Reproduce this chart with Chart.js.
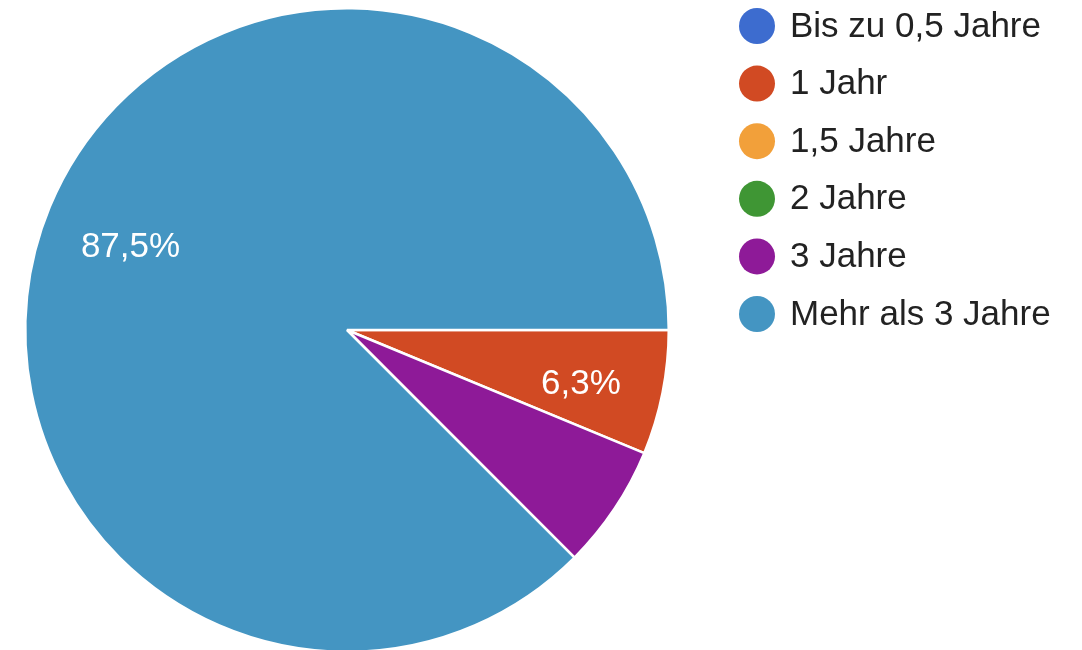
<!DOCTYPE html>
<html>
<head>
<meta charset="utf-8">
<script src="https://cdn.jsdelivr.net/npm/chart.js@4"></script>
<style>
  html, body { margin: 0; padding: 0; background: #fff; overflow: hidden; }
  #wrap { width: 1082px; height: 650px; overflow: hidden; }
</style>
</head>
<body>
<div id="wrap"><canvas id="pie" width="1082" height="660"></canvas></div>
<script>
var categories = ['Bis zu 0,5 Jahre', '1 Jahr', '1,5 Jahre', '2 Jahre', '3 Jahre', 'Mehr als 3 Jahre'];
var shares = [0, 6.25, 0, 0, 6.25, 87.5];
var shareLabels = ['0%', '6,3%', '0%', '0%', '6,3%', '87,5%'];
var sliceColors = ['#3d6ccf', '#d14a23', '#f2a03a', '#3f9634', '#8e1a98', '#4495c2'];
var showPercent = [false, true, false, false, false, true];

var fontFamily = '"Liberation Sans", Arial, Helvetica, sans-serif';

// percent labels inside slices + legend on the right
var pieExtras = {
  id: 'pieExtras',
  afterDraw: function(chart) {
    var ctx = chart.ctx;
    var meta = chart.getDatasetMeta(0);
    ctx.save();
    ctx.font = '35px ' + fontFamily;
    ctx.fillStyle = '#ffffff';
    ctx.textAlign = 'center';
    ctx.textBaseline = 'middle';
    meta.data.forEach(function(arc, i) {
      if (!showPercent[i]) return;
      var mid = (arc.startAngle + arc.endAngle) / 2;
      var r = arc.outerRadius * 0.735;
      ctx.fillText(shareLabels[i], arc.x + Math.cos(mid) * r + 2, arc.y + Math.sin(mid) * r + 8);
    });

    ctx.textAlign = 'left';
    ctx.font = '35px ' + fontFamily;
    for (var i = 0; i < categories.length; i++) {
      var cy = 26 + i * 57.6;
      ctx.beginPath();
      ctx.arc(757, cy, 18, 0, Math.PI * 2);
      ctx.fillStyle = sliceColors[i];
      ctx.fill();
      ctx.fillStyle = '#222222';
      ctx.fillText(categories[i], 790, cy + 1);
    }
    ctx.restore();
  }
};

new Chart(document.getElementById('pie'), {
  type: 'pie',
  data: {
    labels: categories,
    datasets: [{
      data: shares,
      backgroundColor: sliceColors,
      borderColor: '#ffffff',
      borderWidth: 2.5
    }]
  },
  options: {
    responsive: false,
    animation: false,
    rotation: 90,
    layout: {
      padding: { left: 24, right: 412, top: 7, bottom: 7 }
    },
    plugins: {
      legend: { display: false },
      tooltip: { enabled: false }
    }
  },
  plugins: [pieExtras]
});
</script>
</body>
</html>
